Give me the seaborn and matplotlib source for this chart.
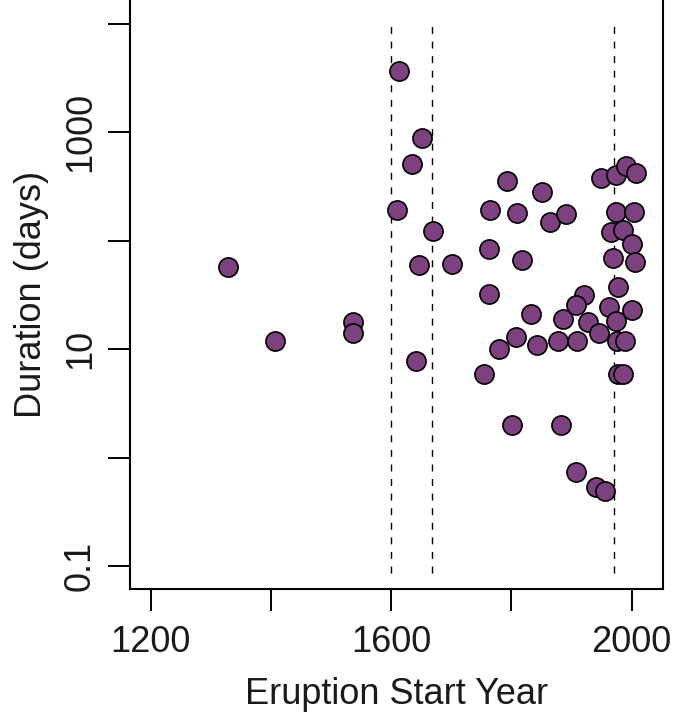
import numpy as np
import pandas as pd
import matplotlib
matplotlib.use("Agg")
import matplotlib.pyplot as plt
import seaborn as sns

# eruption start years and durations (days)
years = [1329, 1407, 1536, 1536, 1613, 1651, 1635, 1609, 1669, 1646,
         1701, 1642, 1792, 1850, 1765, 1810, 1864, 1891, 1763, 1818,
         1762, 1832, 1885, 1779, 1808, 1842, 1878, 1755, 1801, 1882,
         1949, 1973, 1990, 2007, 1973, 2003, 1966, 1985, 2000, 1969,
         2005, 1977, 1921, 1908, 1963, 2000, 1927, 1973, 1946, 1909,
         1975, 1988, 1977, 1985, 1907, 1941, 1955]
durations = [57.3, 11.9, 17.8, 14.0, 3650, 897, 511, 192, 123, 60.4,
             60.7, 7.83, 356, 284, 192, 180, 150, 175, 83.6, 66.5,
             32.0, 21.0, 19.0, 10.0, 12.9, 10.9, 11.9, 5.96, 2.0, 2.0,
             376, 405, 485, 422, 186, 186, 120, 126, 94, 69.7,
             64.2, 37.7, 31.6, 25.8, 24.4, 23.0, 17.9, 18.1, 14.0, 11.9,
             12.0, 11.9, 5.9, 5.9, 0.744, 0.532, 0.495]
line_years = [1600, 1668, 1970]

x_ticks = [1200, 1400, 1600, 1800, 2000]
x_labels = ["1200", "", "1600", "", "2000"]
y_ticks = [0.1, 1, 10, 100, 1000, 10000]
y_labels = ["0.1", "", "10", "", "1000", ""]

df = pd.DataFrame({"year": years, "duration": durations})

sns.set_style("ticks")
plt.rcParams["font.family"] = ["Liberation Sans", "DejaVu Sans"]

fig = plt.figure(figsize=(6.74, 7.28), dpi=100)
ax = fig.add_axes([0.1929, 0.1909, 0.7908, 0.8091])

ax.set_yscale("log")
ax.vlines(line_years, 0.086, 10500, colors="black", linewidth=1.0,
          linestyles=(0, (5, 5.5)), zorder=1)
sns.scatterplot(data=df, x="year", y="duration", ax=ax, s=190,
                color="#7E4180", edgecolor="black", linewidth=1.2,
                alpha=1, zorder=3)

ax.set_xlim(1165.6, 2052)
ax.set_ylim(0.0614, 16640)
ax.set_xticks(x_ticks)
ax.set_xticklabels(x_labels)
ax.set_yticks(y_ticks)
ax.set_yticklabels(y_labels, rotation=90, va="center")
ax.minorticks_off()

ax.tick_params(axis="both", length=16, width=1.4, color="black",
               labelsize=26, labelcolor="#1a1a1a")
ax.tick_params(axis="x", pad=10)
ax.tick_params(axis="y", pad=7)

ax.set_xlabel("Eruption Start Year", fontsize=26, color="#1a1a1a", labelpad=12)
ax.set_ylabel("Duration (days)", fontsize=26, color="#1a1a1a", labelpad=10)

ax.spines["top"].set_visible(False)
for side in ["left", "bottom", "right"]:
    ax.spines[side].set_linewidth(1.5)
    ax.spines[side].set_color("black")

fig.savefig("out.png", dpi=100)
